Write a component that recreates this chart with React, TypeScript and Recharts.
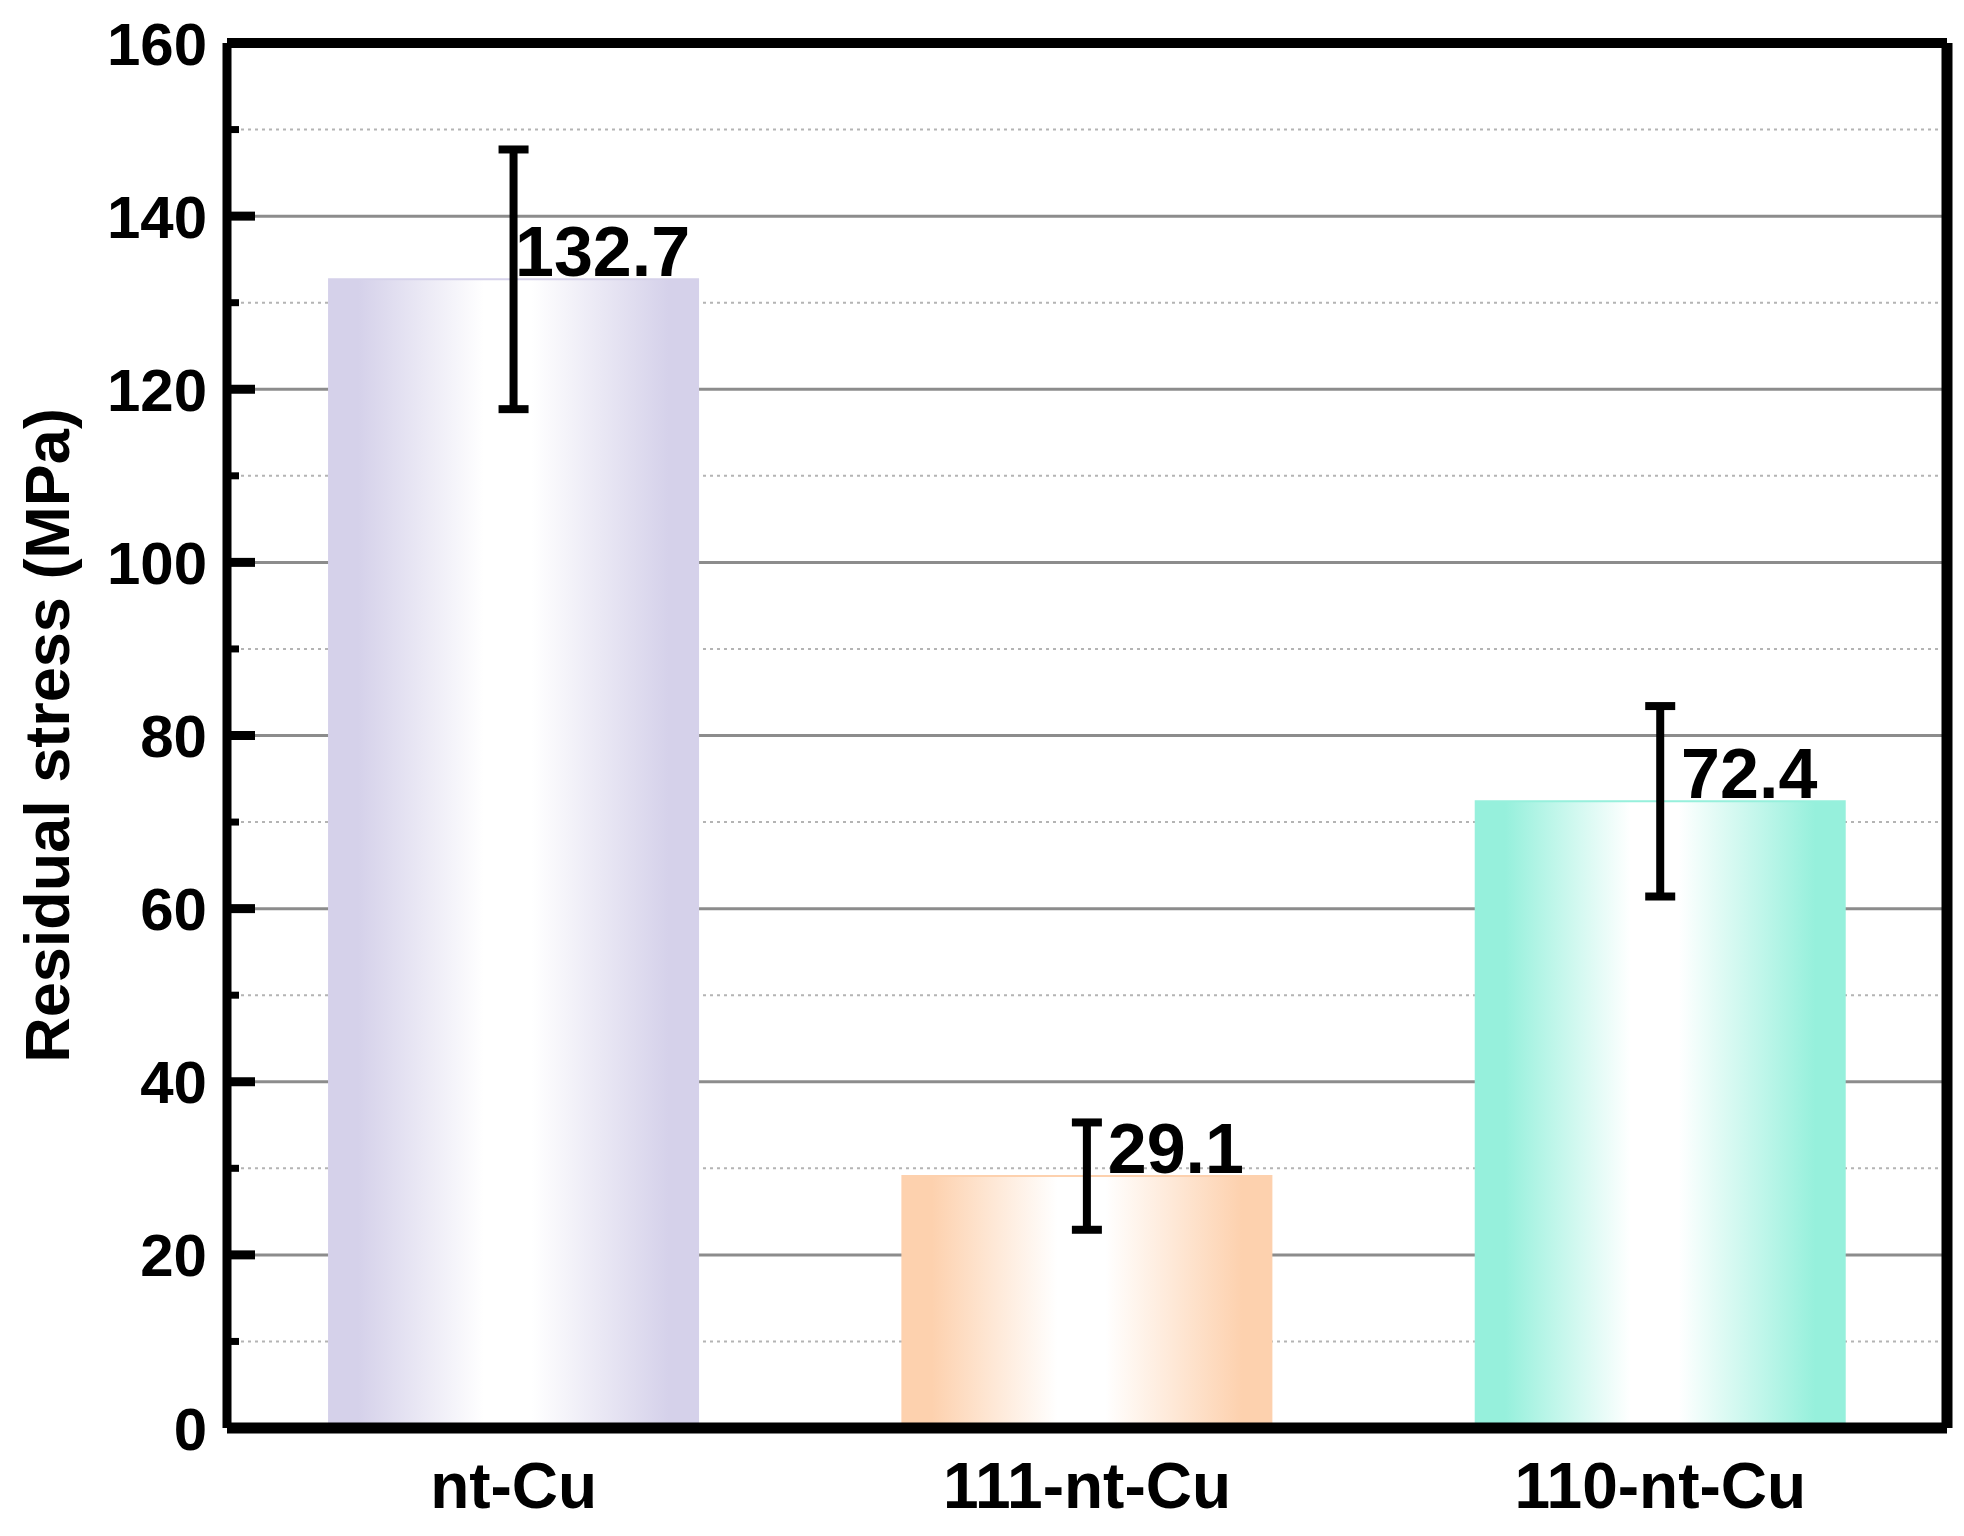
import React from "react";
import {
    BarChart,
    Bar,
    CartesianGrid,
    Cell,
    ErrorBar,
    LabelList,
    XAxis,
    YAxis,
} from "recharts";

// values
const CATEGORIES = ["nt-Cu", "111-nt-Cu", "110-nt-Cu"];
const STRESS = [132.7, 29.1, 72.4];
const STRESS_ERR = [15.0, 6.2, 11.0];
const Y_TICKS = [0, 10, 20, 30, 40, 50, 60, 70, 80, 90, 100, 110, 120, 130, 140, 150, 160];
const MAJOR_GRID = [20, 40, 60, 80, 100, 120, 140];
const MINOR_GRID = [10, 30, 50, 70, 90, 110, 130, 150];
const BAR_COLORS = ["#d5d1ea", "#fdd1ae", "#96f0dc"];

const FONT = "'Liberation Sans', Arial, Helvetica, sans-serif";
const Y_TICK_MARGIN = 20;

const data = CATEGORIES.map((name, i) => ({
    name,
    value: STRESS[i],
    err: STRESS_ERR[i],
}));

function YTick(props: any) {
    const { x, y, payload } = props;
    const v = payload.value as number;
    const major = v % 20 === 0;
    const axisX = x + Y_TICK_MARGIN;
    return (
        <g>
            <line
                x1={axisX}
                x2={axisX + (major ? 28 : 12)}
                y1={y}
                y2={y}
                stroke="#000"
                strokeWidth={major ? 9 : 7}
            />
            {major && (
                <text
                    x={x}
                    y={y}
                    dy="0.36em"
                    textAnchor="end"
                    fill="#000"
                    fontSize={60}
                    fontWeight={700}
                    fontFamily={FONT}
                >
                    {v}
                </text>
            )}
        </g>
    );
}

function ValueLabel(props: any) {
    const { x, y, width, value } = props;
    return (
        <text
            x={x + width / 2 + 89}
            y={y - 3}
            textAnchor="middle"
            fill="#000"
            fontSize={70}
            fontWeight={700}
            fontFamily={FONT}
        >
            {value}
        </text>
    );
}

function AxisTitle(props: any) {
    const vb = props.viewBox;
    const cx = vb.x + 47;
    const cy = vb.y + vb.height / 2;
    return (
        <text
            x={cx}
            y={cy}
            transform={`rotate(-90 ${cx} ${cy})`}
            textAnchor="middle"
            dominantBaseline="central"
            fill="#000"
            fontSize={63}
            fontWeight={700}
            fontFamily={FONT}
        >
            Residual stress (MPa)
        </text>
    );
}

export default function App() {
    return (
        <div style={{ position: "absolute", left: 0, top: 0, width: 1964, height: 1536, background: "#fff" }}>
            <BarChart
                width={1964}
                height={1536}
                data={data}
                margin={{ top: 41, right: 0, bottom: 0, left: 0 }}
                barCategoryGap="17.8%"
            >
                <defs>
                    {BAR_COLORS.map((c, i) => (
                        <linearGradient key={i} id={`barGrad${i}`} x1="0" y1="0" x2="1" y2="0">
                            <stop offset="0%" stopColor={c} />
                            <stop offset="8%" stopColor={c} />
                            <stop offset="42%" stopColor="#ffffff" />
                            <stop offset="55%" stopColor="#ffffff" />
                            <stop offset="92%" stopColor={c} />
                            <stop offset="100%" stopColor={c} />
                        </linearGradient>
                    ))}
                </defs>
                <CartesianGrid
                    vertical={false}
                    horizontalValues={MINOR_GRID}
                    stroke="#b4b4b4"
                    strokeWidth={2}
                    strokeDasharray="3 4"
                />
                <CartesianGrid
                    vertical={false}
                    horizontalValues={MAJOR_GRID}
                    stroke="#8c8c8c"
                    strokeWidth={3}
                />
                <XAxis
                    dataKey="name"
                    height={108}
                    axisLine={{ stroke: "#000", strokeWidth: 11 }}
                    tickLine={false}
                    tickSize={0}
                    tickMargin={35}
                    tick={{ fill: "#000", fontSize: 64, fontWeight: 700, fontFamily: FONT }}
                />
                <XAxis
                    xAxisId="top"
                    dataKey="name"
                    orientation="top"
                    height={2}
                    tick={false}
                    tickLine={false}
                    axisLine={{ stroke: "#000", strokeWidth: 10 }}
                />
                <YAxis
                    width={227}
                    domain={[0, 160]}
                    ticks={Y_TICKS}
                    interval={0}
                    tickLine={false}
                    tickSize={0}
                    tickMargin={Y_TICK_MARGIN}
                    tick={<YTick />}
                    axisLine={{ stroke: "#000", strokeWidth: 9 }}
                    label={{ content: <AxisTitle /> }}
                />
                <YAxis
                    yAxisId="right"
                    orientation="right"
                    width={17}
                    domain={[0, 160]}
                    tick={false}
                    tickLine={false}
                    axisLine={{ stroke: "#000", strokeWidth: 11 }}
                />
                <Bar dataKey="value" isAnimationActive={false}>
                    {data.map((d, i) => (
                        <Cell key={d.name} fill={`url(#barGrad${i})`} stroke={BAR_COLORS[i]} strokeWidth={2} />
                    ))}
                    <ErrorBar
                        dataKey="err"
                        direction="y"
                        width={15}
                        strokeWidth={8}
                        stroke="#000"
                        isAnimationActive={false}
                    />
                    <LabelList dataKey="value" content={<ValueLabel />} />
                </Bar>
            </BarChart>
        </div>
    );
}
